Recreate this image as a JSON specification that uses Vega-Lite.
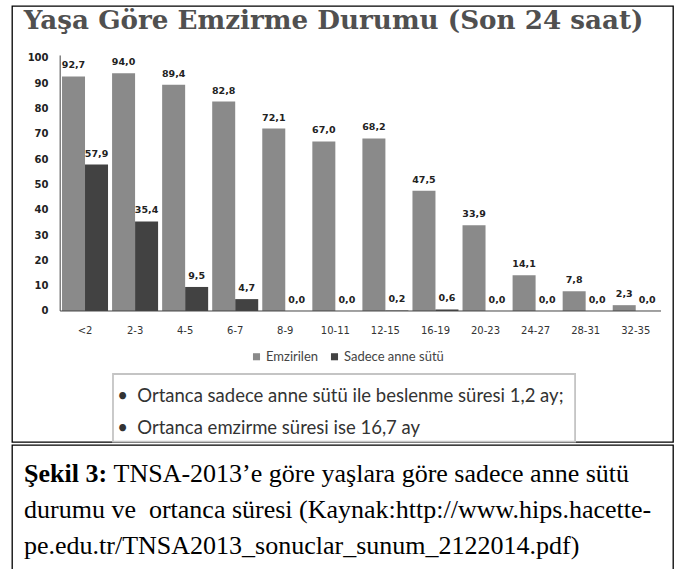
{
  "$schema": "https://vega.github.io/schema/vega-lite/v6.json",
  "padding": {"left": 11, "top": 5, "right": 0, "bottom": 0},
  "background": "white",
  "spacing": 0,
  "config": {
    "view": {"stroke": "#000", "strokeWidth": 1.3},
    "locale": {"number": {"decimal": ",", "thousands": ".", "grouping": [3], "currency": ["", " TL"]}}
  },
  "datasets": {
    "bars": [
      {"age": "<2", "series": "Emzirilen", "value": 92.7},
      {"age": "2-3", "series": "Emzirilen", "value": 94.0},
      {"age": "4-5", "series": "Emzirilen", "value": 89.4},
      {"age": "6-7", "series": "Emzirilen", "value": 82.8},
      {"age": "8-9", "series": "Emzirilen", "value": 72.1},
      {"age": "10-11", "series": "Emzirilen", "value": 67.0},
      {"age": "12-15", "series": "Emzirilen", "value": 68.2},
      {"age": "16-19", "series": "Emzirilen", "value": 47.5},
      {"age": "20-23", "series": "Emzirilen", "value": 33.9},
      {"age": "24-27", "series": "Emzirilen", "value": 14.1},
      {"age": "28-31", "series": "Emzirilen", "value": 7.8},
      {"age": "32-35", "series": "Emzirilen", "value": 2.3},
      {"age": "<2", "series": "Sadece anne sütü", "value": 57.9},
      {"age": "2-3", "series": "Sadece anne sütü", "value": 35.4},
      {"age": "4-5", "series": "Sadece anne sütü", "value": 9.5},
      {"age": "6-7", "series": "Sadece anne sütü", "value": 4.7},
      {"age": "8-9", "series": "Sadece anne sütü", "value": 0.0},
      {"age": "10-11", "series": "Sadece anne sütü", "value": 0.0},
      {"age": "12-15", "series": "Sadece anne sütü", "value": 0.2},
      {"age": "16-19", "series": "Sadece anne sütü", "value": 0.6},
      {"age": "20-23", "series": "Sadece anne sütü", "value": 0.0},
      {"age": "24-27", "series": "Sadece anne sütü", "value": 0.0},
      {"age": "28-31", "series": "Sadece anne sütü", "value": 0.0},
      {"age": "32-35", "series": "Sadece anne sütü", "value": 0.0}
    ],
    "caption": [
      {"line": 1, "part": "label", "text": "Şekil 3:"},
      {"line": 1, "part": "body", "text": "TNSA-2013’e göre yaşlara göre sadece anne sütü"},
      {"line": 2, "part": "body", "text": "durumu ve\u00a0 ortanca süresi (Kaynak:http://www.hips.hacette-"},
      {"line": 3, "part": "body", "text": "pe.edu.tr/TNSA2013_sonuclar_sunum_2122014.pdf)"}
    ]
  },
  "vconcat": [
    {
      "width": 661,
      "height": 436,
      "layer": [
        {
          "data": {"name": "bars"},
          "mark": {"type": "bar"},
          "encoding": {
            "x": {
              "field": "age", "type": "nominal",
              "sort": ["<2", "2-3", "4-5", "6-7", "8-9", "10-11", "12-15", "16-19", "20-23", "24-27", "28-31", "32-35"],
              "scale": {"paddingInner": 0.081, "paddingOuter": 0.642, "align": 0.778},
              "axis": {"orient": "bottom", "offset": -131, "title": null, "domain": false, "ticks": false, "tickSize": 0, "labelPadding": 14, "labelAngle": 0, "grid": false, "labelFont": "DejaVu Sans", "labelFontSize": 10, "labelColor": "#333"}
            },
            "xOffset": {"field": "series", "type": "nominal", "sort": ["Emzirilen", "Sadece anne sütü"], "scale": {"paddingInner": 0, "paddingOuter": 0}},
            "y": {
              "field": "value", "type": "quantitative",
              "scale": {"domain": [-51.78, 120.55], "nice": false, "zero": false},
              "axis": {"orient": "left", "offset": -48, "values": [0, 10, 20, 30, 40, 50, 60, 70, 80, 90, 100], "domain": false, "ticks": false, "tickSize": 0, "labelPadding": 12, "grid": false, "title": null, "labelFont": "DejaVu Sans", "labelFontSize": 10, "labelFontWeight": "bold", "labelColor": "#222"}
            },
            "y2": {"datum": 0},
            "color": {
              "field": "series", "type": "nominal",
              "scale": {"domain": ["Emzirilen", "Sadece anne sütü"], "range": ["#8a8a8a", "#424242"]},
              "legend": {"orient": "none", "legendX": 238, "legendY": 344, "direction": "horizontal", "title": null, "symbolType": "square", "symbolSize": 50, "symbolStrokeWidth": 0, "labelFont": "Lato", "labelFontSize": 13, "labelColor": "#444", "columnPadding": 9, "labelOffset": 3}
            }
          }
        },
        {
          "data": {"name": "bars"},
          "mark": {"type": "text", "baseline": "alphabetic", "dy": -8, "font": "DejaVu Sans", "fontSize": 9.5, "fontWeight": "bold", "color": "#222"},
          "encoding": {
            "x": {"field": "age", "type": "nominal", "sort": ["<2", "2-3", "4-5", "6-7", "8-9", "10-11", "12-15", "16-19", "20-23", "24-27", "28-31", "32-35"]},
            "xOffset": {"field": "series", "type": "nominal", "sort": ["Emzirilen", "Sadece anne sütü"]},
            "y": {"field": "value", "type": "quantitative"},
            "text": {"field": "value", "type": "quantitative", "format": ".1f"}
          }
        },
        {
          "data": {"values": [{"text": "Yaşa Göre Emzirme Durumu (Son 24 saat)"}]},
          "mark": {"type": "text", "align": "left", "baseline": "alphabetic", "font": "DejaVu Serif", "fontSize": 26.2, "fontWeight": "bold", "color": "#505050"},
          "encoding": {
            "x": {"datum": "<2", "bandPosition": -0.833},
            "y": {"datum": 111.3},
            "text": {"field": "text"}
          }
        },
        {
          "data": {"values": [{}]},
          "mark": {"type": "rule", "color": "#444", "strokeWidth": 1},
          "encoding": {
            "x": {"datum": "<2", "bandPosition": -0.04},
            "y": {"datum": 0},
            "y2": {"datum": 101}
          }
        },
        {
          "data": {"values": [{}]},
          "mark": {"type": "rule", "color": "#444", "strokeWidth": 1},
          "encoding": {
            "x": {"datum": "<2", "bandPosition": -0.04},
            "x2": {"datum": "32-35", "bandPosition": 1.05},
            "y": {"datum": 0}
          }
        },
        {
          "data": {"values": [{}]},
          "mark": {"type": "rect", "fill": "white", "stroke": "#c4c4c4", "strokeWidth": 1.8},
          "encoding": {
            "x": {"datum": "2-3", "bandPosition": 0.02},
            "x2": {"datum": "28-31", "bandPosition": 0.27},
            "y": {"datum": -24.9},
            "y2": {"datum": -51.6}
          }
        },
        {
          "data": {"values": [{"text": "•\u00a0\u00a0Ortanca sadece anne sütü ile beslenme süresi 1,2 ay;"}]},
          "mark": {"type": "text", "align": "left", "baseline": "middle", "font": "Lato", "fontSize": 18.5, "color": "#333"},
          "encoding": {
            "x": {"datum": "2-3", "bandPosition": 0.11},
            "y": {"datum": -33.6},
            "text": {"field": "text"}
          }
        },
        {
          "data": {"values": [{"text": "•\u00a0\u00a0Ortanca emzirme süresi ise 16,7 ay"}]},
          "mark": {"type": "text", "align": "left", "baseline": "middle", "font": "Lato", "fontSize": 18.5, "color": "#333"},
          "encoding": {
            "x": {"datum": "2-3", "bandPosition": 0.11},
            "y": {"datum": -46.2},
            "text": {"field": "text"}
          }
        }
      ]
    },
    {
      "width": 661,
      "height": 130,
      "layer": [
        {
          "data": {"name": "caption"},
          "transform": [{"filter": "datum.line > 1"}],
          "mark": {"type": "text", "align": "left", "baseline": "middle", "font": "Liberation Serif", "fontSize": 26, "color": "#000"},
          "encoding": {
            "x": {"datum": 0, "type": "quantitative", "scale": {"domain": [-0.0185, 1], "nice": false, "zero": false}, "axis": null},
            "y": {"field": "line", "type": "ordinal", "scale": {"type": "point", "domain": [1, 2, 3], "padding": 0.806, "align": 0.5}, "axis": null},
            "text": {"field": "text"}
          }
        },
        {
          "data": {"name": "caption"},
          "transform": [{"filter": "datum.line == 1 && datum.part == 'body'"}],
          "mark": {"type": "text", "align": "left", "baseline": "middle", "font": "Liberation Serif", "fontSize": 26, "color": "#000"},
          "encoding": {
            "x": {"datum": 0.138, "type": "quantitative"},
            "y": {"field": "line", "type": "ordinal"},
            "text": {"field": "text"}
          }
        },
        {
          "data": {"name": "caption"},
          "transform": [{"filter": "datum.part == 'label'"}],
          "mark": {"type": "text", "align": "left", "baseline": "middle", "font": "Liberation Serif", "fontSize": 26, "fontWeight": "bold", "color": "#000"},
          "encoding": {
            "x": {"datum": 0, "type": "quantitative"},
            "y": {"field": "line", "type": "ordinal"},
            "text": {"field": "text"}
          }
        }
      ]
    }
  ]
}
